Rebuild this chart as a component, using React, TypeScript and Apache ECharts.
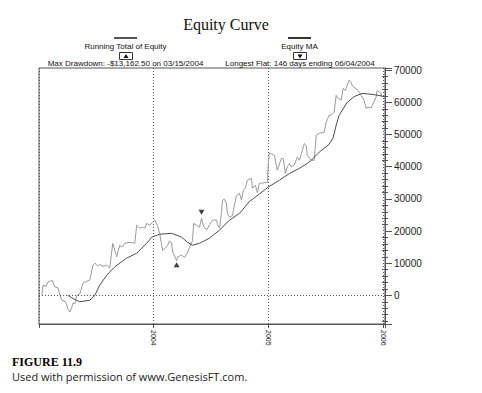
import React, { useEffect, useRef } from 'react';
import * as echarts from 'echarts';

// Running Total of Equity (decimal year, $)
const equityYears = [
  2003.026, 2003.035, 2003.061, 2003.078, 2003.113, 2003.122, 2003.139, 2003.165, 2003.183, 2003.2,
  2003.226, 2003.243, 2003.252, 2003.27, 2003.287, 2003.296, 2003.313, 2003.33, 2003.357, 2003.383,
  2003.4, 2003.443, 2003.47, 2003.487, 2003.513, 2003.53, 2003.557, 2003.591, 2003.617, 2003.643,
  2003.661, 2003.678, 2003.704, 2003.722, 2003.748, 2003.791, 2003.835, 2003.852, 2003.878, 2003.904,
  2003.922, 2003.939, 2003.965, 2003.991, 2004.009, 2004.035, 2004.052, 2004.078, 2004.096, 2004.122,
  2004.139, 2004.157, 2004.165, 2004.2, 2004.209, 2004.243, 2004.27, 2004.287, 2004.296, 2004.313,
  2004.339, 2004.348, 2004.374, 2004.4, 2004.417, 2004.435, 2004.461, 2004.487, 2004.513, 2004.548,
  2004.557, 2004.574, 2004.591, 2004.6, 2004.617, 2004.635, 2004.643, 2004.661, 2004.687, 2004.704,
  2004.722, 2004.748, 2004.765, 2004.783, 2004.8, 2004.817, 2004.852, 2004.861, 2004.887, 2004.904,
  2004.922, 2004.948, 2004.965, 2004.983, 2004.991, 2005.0, 2005.009, 2005.026, 2005.052, 2005.078,
  2005.113, 2005.13, 2005.148, 2005.165, 2005.183, 2005.2, 2005.226, 2005.252, 2005.27, 2005.287,
  2005.313, 2005.33, 2005.339, 2005.374, 2005.4, 2005.417, 2005.443, 2005.487, 2005.504, 2005.53,
  2005.548, 2005.574, 2005.591, 2005.6, 2005.635, 2005.652, 2005.67, 2005.704, 2005.722, 2005.73,
  2005.757, 2005.783, 2005.809, 2005.835, 2005.852, 2005.878, 2005.896, 2005.939, 2005.948, 2005.983,
  2005.991,
];
const equityValues = [
  0, 3200, 2800, 4100, 4700, 4100, 2600, 2400, 0, -1500,
  -1800, -3000, -4200, -5200, -3600, -2400, -2600, 0, 500, 3800,
  4100, 4800, 9400, 10000, 9200, 9600, 9000, 9400, 8500, 16200,
  14000, 12000, 15600, 15000, 16200, 16500, 16200, 21800, 20900, 21200,
  20800, 22400, 21800, 22800, 23400, 21500, 19300, 14000, 14500, 15600,
  17000, 16000, 13500, 10800, 12000, 12500, 11800, 12800, 13400, 15000,
  17000, 22400, 21800, 21200, 24000, 21500, 20300, 22000, 23400, 23400,
  22000, 20900, 25500, 29600, 29900, 28500, 25500, 24300, 24800, 28000,
  31100, 31700, 29600, 32700, 33500, 35800, 36400, 33300, 34300, 32000,
  34900, 34900, 35100, 35100, 35100, 41400, 44300, 44000, 43500, 38900,
  42600, 42600, 37900, 40000, 41000, 40000, 40500, 43000, 42000, 44000,
  47200, 46600, 43600, 42000, 42000, 49800, 50400, 50700, 53800, 56000,
  56000, 57000, 62200, 61600, 60700, 64400, 63700, 66900, 66200, 65300,
  64400, 63700, 62200, 60600, 58200, 58500, 58200, 61600, 63700, 62800,
  61600,
];

// Equity MA
const maYears = [
  2003.252, 2003.287, 2003.357, 2003.443, 2003.487, 2003.53, 2003.591, 2003.661, 2003.765, 2003.852,
  2003.939, 2003.983, 2004.052, 2004.157, 2004.243, 2004.296, 2004.339, 2004.4, 2004.487, 2004.574,
  2004.661, 2004.748, 2004.835, 2004.922, 2004.991, 2005.096, 2005.183, 2005.27, 2005.339, 2005.374,
  2005.443, 2005.53, 2005.565, 2005.591, 2005.617, 2005.687, 2005.748, 2005.817, 2005.904, 2005.991,
];
const maValues = [
  0, -800, -2000, -1500, 0, 3200, 6300, 8900, 11600, 13100,
  16200, 18100, 19000, 19300, 18100, 16500, 15600, 16200, 17800, 20300,
  23400, 25500, 29200, 31500, 33500, 35800, 37900, 39500, 41000, 42000,
  44500, 47000, 49000, 52900, 56000, 60000, 61800, 62800, 62500, 62000,
];

// markers: max drawdown low (▲) and preceding high (▼)
const drawdownLow = [2004.2, 10800];
const flatHigh = [2004.417, 24000];

const xMin = 2003;
const xMax = 2006.017;
const yMin = -8900;
const yMax = 70700;

const title = 'Equity Curve';
const legendNames = ['Running Total of Equity', 'Equity MA'];
const statTexts = ['Max Drawdown: -$13,162.50 on 03/15/2004', 'Longest Flat: 146 days ending 06/04/2004'];
const figureLabel = 'FIGURE 11.9';
const creditText = 'Used with permission of www.GenesisFT.com.';

const SANS = 'Liberation Sans, Arial, sans-serif';
const SERIF = 'Liberation Serif, Times New Roman, serif';
const AXIS = '#555555';

export default function App() {
  const ref = useRef<HTMLDivElement>(null);
  useEffect(() => {
    if (!ref.current) return;
    const chart = echarts.init(ref.current, null, { renderer: 'svg' });
    const eq = equityYears.map((y, i) => [y, equityValues[i]]);
    const ma = maYears.map((y, i) => [y, maValues[i]]);
    const lx = 125.5;
    const rx = 299.5;
    chart.setOption({
      animation: false,
      backgroundColor: '#ffffff',
      textStyle: { fontFamily: SANS },
      grid: {
        left: 39, right: 97, top: 68, bottom: 69,
        show: true, borderColor: AXIS, borderWidth: 1, backgroundColor: 'transparent',
      },
      xAxis: {
        type: 'value', min: xMin, max: xMax, interval: 1,
        axisLine: { show: true, onZero: false, lineStyle: { color: AXIS } },
        axisTick: { show: true, length: 4, lineStyle: { color: AXIS } },
        axisLabel: {
          rotate: -90, fontSize: 7, color: '#222', margin: 6, fontFamily: SANS,
          formatter: (v: number) => (Math.abs(v - Math.round(v)) < 1e-6 && v > 2003.5 ? String(Math.round(v)) : ''),
        },
        splitLine: { show: true, lineStyle: { type: [1, 2], color: AXIS, width: 1 } },
      },
      yAxis: [
        {
          type: 'value', position: 'right', min: yMin, max: yMax, splitNumber: 8,
          axisLine: { show: true, onZero: false, lineStyle: { color: AXIS } },
          axisTick: { show: true, length: 7, lineStyle: { color: AXIS } },
          minorTick: { show: true, splitNumber: 5, length: 3, lineStyle: { color: AXIS } },
          axisLabel: {
            fontSize: 10, color: '#222', margin: 9, fontFamily: SANS,
            formatter: (v: number) => (Math.abs(v % 10000) < 1e-6 ? String(Math.round(v)) : ''),
          },
          splitLine: { show: false },
        },
        {
          type: 'value', position: 'right', min: yMin, max: yMax, splitNumber: 8,
          axisLine: { show: false, onZero: false },
          axisTick: { show: false, inside: true },
          minorTick: { show: true, splitNumber: 5, length: 3, lineStyle: { color: AXIS } },
          axisLabel: { show: false },
          splitLine: { show: false },
        },
      ],
      series: [
        {
          name: legendNames[0], type: 'line', data: eq, showSymbol: false, symbol: 'none',
          lineStyle: { color: '#9a9a9a', width: 1 }, z: 3,
          markLine: {
            silent: true, symbol: 'none', label: { show: false },
            lineStyle: { type: [1, 2], color: AXIS, width: 1 },
            data: [{ yAxis: 0 }],
          },
        },
        {
          name: legendNames[1], type: 'line', data: ma, showSymbol: false, symbol: 'none',
          lineStyle: { color: '#4d4d4d', width: 1 }, z: 4,
        },
        {
          type: 'scatter', data: [drawdownLow], symbol: 'triangle', symbolSize: [6, 5],
          symbolOffset: [0, 4], itemStyle: { color: '#111' }, z: 5,
        },
        {
          type: 'scatter', data: [flatHigh], symbol: 'triangle', symbolRotate: 180, symbolSize: [6, 5],
          symbolOffset: [0, -6], itemStyle: { color: '#111' }, z: 5,
        },
      ],
      graphic: [
        {
          type: 'text', x: 226, y: 24,
          style: { text: title, font: `16px ${SERIF}`, fill: '#111', textAlign: 'center', textVerticalAlign: 'middle' },
        },
        { type: 'rect', shape: { x: 114, y: 37, width: 23, height: 2 }, style: { fill: '#555' } },
        { type: 'rect', shape: { x: 288, y: 37, width: 23, height: 2 }, style: { fill: '#333' } },
        {
          type: 'text', x: lx, y: 46,
          style: { text: legendNames[0], font: `8px ${SANS}`, fill: '#111', textAlign: 'center', textVerticalAlign: 'middle' },
        },
        {
          type: 'text', x: rx, y: 46,
          style: { text: legendNames[1], font: `8px ${SANS}`, fill: '#111', textAlign: 'center', textVerticalAlign: 'middle' },
        },
        { type: 'rect', shape: { x: 119.5, y: 52.5, width: 13, height: 7 }, style: { fill: '#fff', stroke: '#333', lineWidth: 1 } },
        { type: 'polygon', shape: { points: [[123.5, 58], [128.5, 58], [126, 54]] }, style: { fill: '#111' } },
        { type: 'rect', shape: { x: 293.5, y: 52.5, width: 13, height: 7 }, style: { fill: '#fff', stroke: '#333', lineWidth: 1 } },
        { type: 'polygon', shape: { points: [[297.5, 54.5], [302.5, 54.5], [300, 58.5]] }, style: { fill: '#111' } },
        {
          type: 'text', x: lx, y: 63,
          style: { text: statTexts[0], font: `8px ${SANS}`, fill: '#111', textAlign: 'center', textVerticalAlign: 'middle' },
        },
        {
          type: 'text', x: rx + 0.5, y: 63,
          style: { text: statTexts[1], font: `8px ${SANS}`, fill: '#111', textAlign: 'center', textVerticalAlign: 'middle' },
        },
        {
          type: 'text', x: 12, y: 362,
          style: { text: figureLabel, font: `bold 12px ${SERIF}`, fill: '#000', textAlign: 'left', textVerticalAlign: 'middle' },
        },
        {
          type: 'text', x: 12, y: 376,
          style: { text: creditText, font: `11px Open Sans, Noto Sans, sans-serif`, fill: '#222', textAlign: 'left', textVerticalAlign: 'middle' },
        },
      ],
    });
    return () => chart.dispose();
  }, []);
  return (
    <div
      ref={ref}
      style={{ position: 'absolute', left: 0, top: 0, width: 482, height: 393, background: '#fff' }}
    />
  );
}
